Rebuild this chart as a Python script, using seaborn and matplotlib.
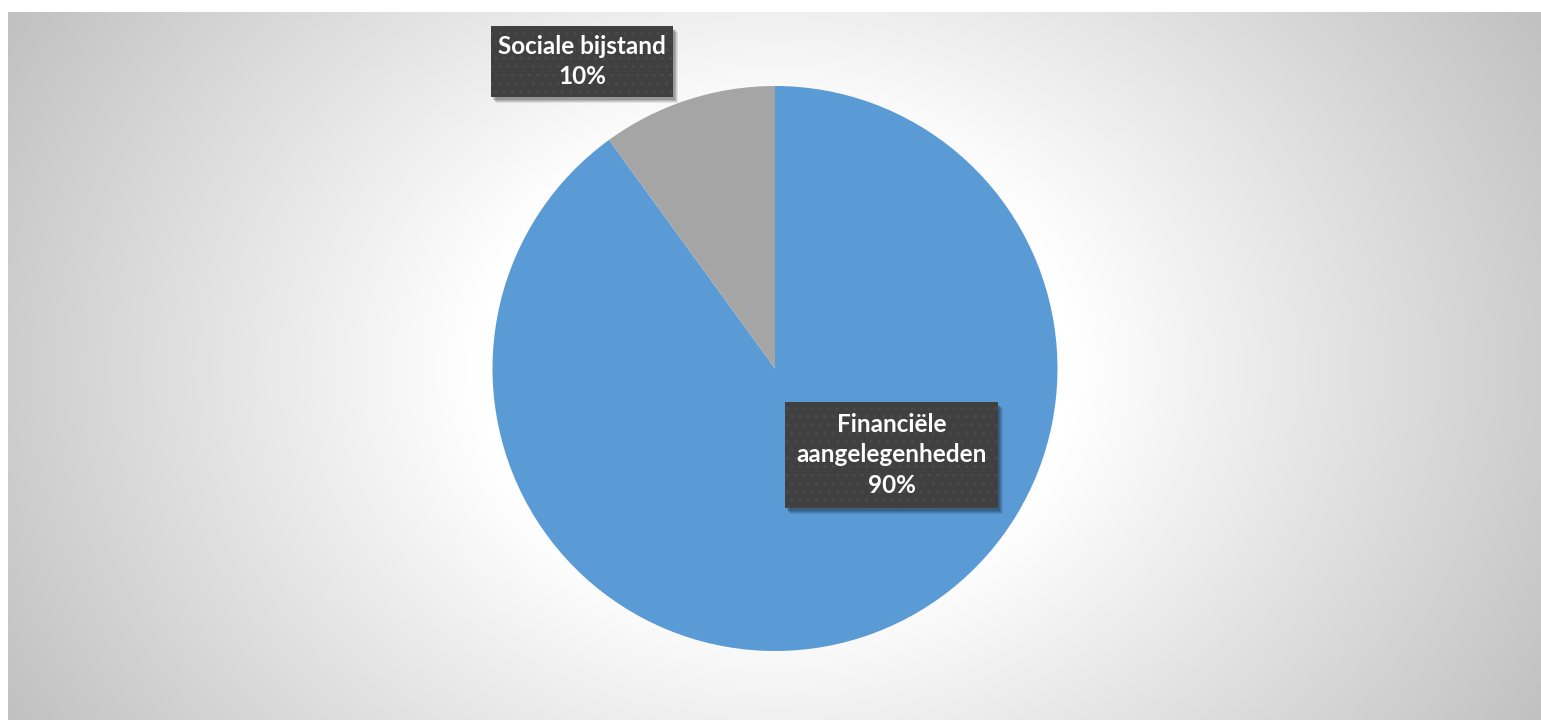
import numpy as np
import matplotlib
matplotlib.use("Agg")
import matplotlib.pyplot as plt
from matplotlib.patches import Rectangle
import seaborn as sns

categories = ["Financiële\naangelegenheden", "Sociale bijstand"]
shares = [90, 10]
colors = ["#5B9BD5", "#A5A5A5"]

sns.set_style("white")
plt.rcParams["font.family"] = ["Lato", "DejaVu Sans"]

W, H = 1541, 720
fig = plt.figure(figsize=(W / 100, H / 100), dpi=100)
fig.patch.set_facecolor("white")

# chart area background: radial gradient, white in the middle, grey at the edges
x0, y0, x1, y1 = 8, 0, W, H - 12
bg = fig.add_axes([x0 / W, y0 / H, (x1 - x0) / W, (y1 - y0) / H])
gx = np.arange(x0, x1) + 0.5
gy = np.arange(y0, y1) + 0.5
XX, YY = np.meshgrid(gx, gy)
cx, cy = 775, H - 368.5
d = np.sqrt(((XX - cx) / 1.0) ** 2 + ((YY - cy) * 1.25) ** 2)
t = np.clip((d - 300) / 580, 0, 1)
val = (255 - 62 * t) / 255.0
img = np.dstack([val, val, val])
bg.imshow(img, origin="lower", aspect="auto", interpolation="bilinear")
bg.set_axis_off()

# pie in pixel-scaled data coordinates
ax = fig.add_axes([0, 0, 1, 1])
ax.set_axis_off()
ax.patch.set_alpha(0)

ax.pie(shares, colors=colors, startangle=90, counterclock=False,
       center=(775, H - 368.5), radius=282.5,
       wedgeprops=dict(linewidth=0))
ax.set_aspect("equal")
ax.set_xlim(0, W)
ax.set_ylim(0, H)


def label_box(xl, yt, xr, yb, text):
    # drop shadow
    for k, a in [(6, 0.08), (5, 0.1), (4, 0.12), (3, 0.14)]:
        ax.add_patch(Rectangle((xl + k - 1, H - yb - k), xr - xl, yb - yt,
                               facecolor="black", edgecolor="none", alpha=a, zorder=5))
    ax.add_patch(Rectangle((xl, H - yb), xr - xl, yb - yt,
                           facecolor="#404040", edgecolor="#4a4a4a", hatch="..",
                           linewidth=0, zorder=6))
    ax.text((xl + xr) / 2, H - (yt + yb) / 2, text, ha="center", va="center",
            color="white", fontsize=17.5, fontweight="bold", linespacing=1.42, zorder=7)


label_box(491, 26, 673, 97, f"{categories[1]}\n{shares[1]}%")
label_box(785, 402, 998, 508, f"{categories[0]}\n{shares[0]}%")

fig.savefig("out.png", dpi=100, facecolor="white")
